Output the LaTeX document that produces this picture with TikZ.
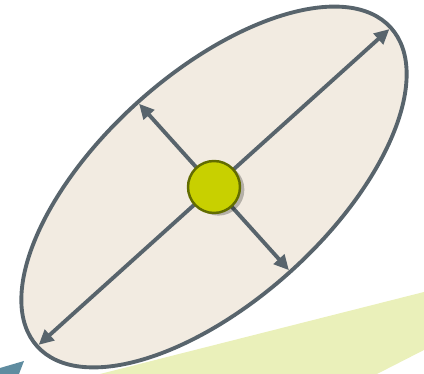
\documentclass[tikz,border=0pt]{standalone}
\usepackage{tikz}
\usetikzlibrary{arrows.meta,calc,shadows}
\definecolor{ringgray}{RGB}{88,100,108}
\definecolor{sandfill}{RGB}{242,235,225}
\definecolor{limefill}{RGB}{200,208,0}
\definecolor{olivedraw}{RGB}{98,108,0}
\definecolor{palelime}{RGB}{234,240,186}
\definecolor{tealbit}{RGB}{95,140,160}
\tikzset{
  ring/.style={draw=ringgray,line width=2.2pt,fill=sandfill},
  axisarrow/.style={-{Triangle[length=3mm,width=2.8mm]},draw=ringgray,line width=2.2pt},
  hub/.style={circle,draw=olivedraw,line width=1.4pt,fill=limefill,minimum size=1.04cm,inner sep=0pt,
    drop shadow={shadow xshift=2.5pt,shadow yshift=-1.5pt,opacity=0.25,fill=black}}
}

\begin{document}
\begin{tikzpicture}[x=0.02cm,y=0.02cm]
  \useasboundingbox (0,0) rectangle (424,374);

  % background pieces
  \fill[palelime] (100,0) -- (424,82) -- (424,24) -- (377,0) -- cycle;
  \fill[tealbit] (0,6) -- (24,13) -- (19,0) -- (0,0) -- cycle;

  \coordinate (ctr) at (214,187);
  \draw[ring,rotate around={42:(ctr)}] (ctr) ellipse (238 and 114);

  \coordinate (tipNE) at ($(ctr)+(42:236)$);
  \coordinate (tipSW) at ($(ctr)+(222:236)$);
  \coordinate (tipNW) at ($(ctr)+(132:112)$);
  \coordinate (tipSE) at ($(ctr)+(312:112)$);

  \draw[axisarrow] (ctr) -- (tipNE);
  \draw[axisarrow] (ctr) -- (tipSW);
  \draw[axisarrow] (ctr) -- (tipNW);
  \draw[axisarrow] (ctr) -- (tipSE);

  \node[hub] (core) at (ctr) {};
\end{tikzpicture}
\end{document}
